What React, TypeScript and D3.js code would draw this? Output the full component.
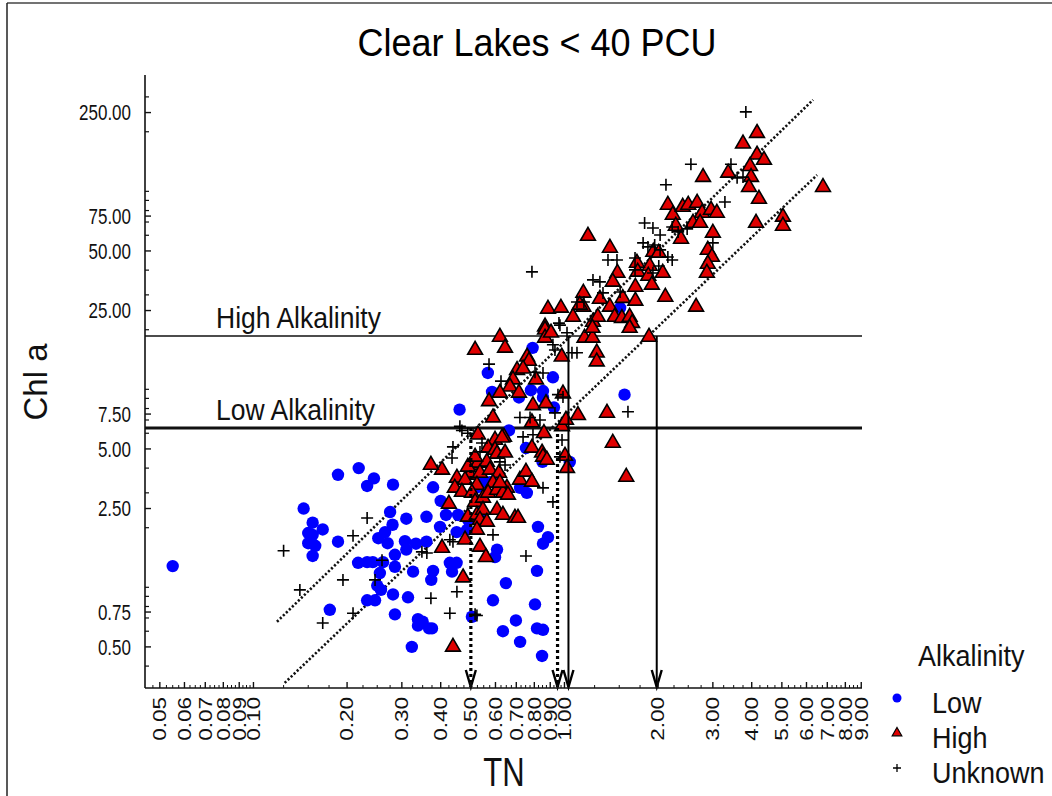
import React from 'react';
import * as d3 from 'd3';

// ---- data (TN, Chl a) ----
const lowPoints: [number, number][] = [
  [0.055, 1.28], [0.46, 7.9], [0.585, 9.7], [0.187, 3.7], [0.218, 4.0], [0.244, 3.55], [0.232, 3.25],
  [0.281, 3.3], [0.145, 2.5], [0.155, 2.12], [0.167, 1.96], [0.15, 1.88], [0.155, 1.84], [0.15, 1.67],
  [0.158, 1.62], [0.155, 1.44], [0.187, 1.7], [0.378, 3.2], [0.40, 2.73], [0.36, 2.27], [0.31, 2.22],
  [0.275, 2.4], [0.28, 2.07], [0.265, 1.9], [0.252, 1.77], [0.27, 1.67], [0.307, 1.71], [0.333, 1.66],
  [0.36, 1.7], [0.398, 2.02], [0.416, 2.32], [0.45, 1.9], [0.49, 2.19], [0.31, 1.55], [0.285, 1.46],
  [0.261, 1.34], [0.242, 1.34], [0.232, 1.34], [0.217, 1.33], [0.285, 1.27], [0.326, 1.2], [0.378, 1.21],
  [0.373, 1.09], [0.428, 1.33], [0.45, 1.33], [0.435, 1.2], [0.255, 1.18], [0.25, 1.02], [0.257, 0.97],
  [0.232, 0.86], [0.246, 0.86], [0.281, 0.92], [0.314, 0.89], [0.176, 0.77], [0.285, 0.73], [0.338, 0.69],
  [0.35, 0.67], [0.338, 0.64], [0.367, 0.62], [0.375, 0.62], [0.323, 0.5], [0.504, 0.71], [0.589, 0.86],
  [0.607, 1.55], [0.79, 16.2], [0.567, 12.1], [0.918, 11.5], [0.853, 9.8], [0.853, 9.1], [0.925, 8.1],
  [0.714, 9.1], [0.78, 9.9], [0.663, 6.2], [0.752, 5.05], [0.85, 4.3], [1.04, 4.3], [1.56, 9.4],
  [1.51, 25.8], [0.486, 1.95], [0.535, 2.37], [0.523, 3.2], [0.546, 3.37], [0.576, 3.4], [0.607, 3.48],
  [0.72, 3.18], [0.757, 3.0], [0.822, 2.02], [0.885, 1.79], [0.853, 1.66], [0.598, 1.42], [0.648, 1.05],
  [0.816, 1.21], [0.804, 0.82], [0.698, 0.68], [0.634, 0.6], [0.853, 0.61], [0.816, 0.62], [0.72, 0.53],
  [0.847, 0.45], [0.455, 2.32],
];

const highPoints: [number, number][] = [
  [4.16, 197], [3.75, 174], [4.16, 153], [4.38, 144], [3.95, 134], [3.98, 118], [3.92, 105], [3.36, 124],
  [2.79, 118], [4.22, 91.5], [6.78, 105], [4.13, 69.2], [5.04, 74.3], [5.04, 66.9], [2.15, 85.4], [2.23, 76.0],
  [2.28, 66.9], [2.40, 83.4], [2.50, 85.4], [2.67, 87.4], [2.77, 77.8], [2.96, 80.5], [3.09, 77.8], [2.59, 69.2],
  [2.73, 69.2], [3.00, 61.7], [2.37, 57.5], [1.19, 59.5], [1.40, 51.8], [2.89, 50.6], [2.98, 46.6], [2.89, 43.0],
  [2.87, 38.7], [1.93, 49.4], [2.01, 48.9], [1.88, 42.0], [2.07, 38.7], [1.71, 43.5], [1.72, 39.2], [1.48, 38.7],
  [1.43, 34.9], [1.86, 37.4], [1.91, 33.7], [1.69, 32.9], [1.54, 28.9], [1.69, 28.0], [2.11, 29.3], [2.65, 26.1],
  [1.30, 28.6], [1.15, 30.7], [1.15, 26.1], [0.885, 25.5], [0.974, 25.8], [1.065, 23.2], [1.40, 26.1], [1.45, 23.2],
  [1.53, 22.9], [1.62, 23.2], [1.65, 21.6], [1.235, 21.9], [1.28, 23.2], [0.866, 20.7], [1.62, 20.4], [0.516, 15.8],
  [0.62, 18.4], [0.644, 16.2], [0.866, 20.0], [0.866, 18.2], [0.905, 19.3], [1.27, 15.3], [1.27, 13.8], [1.16, 18.2],
  [1.23, 18.2], [0.98, 14.6], [0.758, 14.6], [0.769, 13.9], [0.704, 12.5], [0.736, 12.7], [1.87, 18.4], [0.81, 11.2],
  [0.683, 11.2], [0.668, 10.3], [0.714, 9.6], [0.62, 9.6], [0.572, 8.7], [0.989, 9.5], [1.105, 7.4], [1.37, 7.6],
  [0.792, 8.3], [0.872, 8.5], [0.589, 7.2], [0.786, 6.8], [0.982, 6.5], [0.527, 5.9], [0.639, 5.75], [0.598, 5.55],
  [0.568, 5.06], [0.598, 4.94], [0.786, 5.06], [0.847, 4.78], [0.853, 4.56], [1.004, 4.61], [1.43, 5.36], [1.58, 3.61],
  [1.23, 20.4], [1.011, 7.0], [0.859, 6.0], [0.63, 5.7], [0.607, 4.72], [0.644, 4.78], [0.504, 4.15], [0.527, 4.25],
  [0.563, 4.3], [0.497, 3.70], [0.535, 3.78], [0.576, 3.92], [0.616, 3.78], [0.451, 3.57], [0.479, 3.49], [0.523, 3.29],
  [0.589, 3.37], [0.653, 3.18], [0.719, 3.49], [0.752, 3.83], [0.786, 3.41], [0.444, 3.18], [0.468, 3.03], [0.504, 3.0],
  [0.404, 3.92], [0.372, 4.15], [0.516, 2.70], [0.547, 2.83], [0.568, 3.0], [0.607, 3.10], [0.634, 3.0], [0.658, 2.93],
  [0.425, 2.64], [0.489, 2.27], [0.523, 2.32], [0.547, 2.46], [0.535, 2.19], [0.563, 2.14], [0.607, 2.46], [0.634, 2.32],
  [0.693, 2.24], [0.709, 2.24], [0.479, 1.74], [0.523, 1.95], [0.535, 1.60], [0.404, 1.58], [0.559, 1.42], [0.472, 1.12],
  [0.438, 0.50], [0.878, 4.4], [1.019, 4.0], [0.489, 4.06], [0.516, 4.56], [0.62, 3.37], [1.12, 26.7],
];

const unknownPoints: [number, number][] = [
  [0.125, 1.53], [0.141, 0.97], [0.167, 0.66], [0.209, 0.74], [0.194, 1.09], [0.232, 2.24], [0.209, 1.82],
  [0.259, 1.37], [0.246, 1.09], [0.372, 0.88], [0.428, 0.74], [0.451, 0.95], [0.438, 1.70], [0.438, 5.12],
  [0.435, 4.5], [0.468, 6.2], [0.489, 6.0], [0.361, 1.49], [0.523, 0.72], [3.83, 252], [2.55, 137], [2.12, 108],
  [3.28, 88.4], [3.43, 137], [3.59, 117], [3.75, 118], [1.81, 69.2], [1.925, 65.3], [2.03, 60.2], [2.22, 66.1],
  [2.32, 62.4], [2.48, 64.6], [3.0, 54.9], [1.79, 54.9], [1.855, 52.4], [1.95, 53.6], [2.03, 50.6], [2.15, 46.6],
  [2.22, 45.0], [1.686, 46.1], [1.686, 40.1], [1.38, 45.0], [1.475, 45.0], [0.786, 39.2], [1.235, 35.7], [1.30, 34.9],
  [1.097, 27.6], [1.155, 27.6], [0.96, 21.6], [1.33, 30.7], [1.51, 31.0], [1.925, 38.7], [2.01, 42.0], [0.572, 13.4],
  [0.625, 11.0], [0.719, 7.2], [0.775, 7.2], [0.834, 7.0], [0.804, 12.2], [0.853, 12.1], [0.918, 16.8], [0.932, 15.8],
  [1.019, 19.3], [1.057, 15.3], [1.097, 15.3], [0.989, 9.15], [0.953, 9.4], [0.932, 7.6], [0.736, 5.75], [0.792, 5.9],
  [0.982, 5.55], [0.918, 2.70], [0.853, 3.18], [0.589, 1.84], [0.752, 1.44], [1.60, 7.7], [0.461, 6.5], [0.535, 4.83],
  [0.543, 5.36], [0.428, 1.74], [0.967, 4.56], [0.644, 4.15], [0.62, 4.3], [0.348, 1.51], [0.516, 0.73], [0.967, 21.1],
];

// ---- axes / annotations ----
const xTickValues = [0.05, 0.06, 0.07, 0.08, 0.09, 0.10, 0.20, 0.30, 0.40, 0.50, 0.60, 0.70, 0.80, 0.90, 1.00, 2.00, 3.00, 4.00, 5.00, 6.00, 7.00, 8.00, 9.00];
const yTickValues = [0.50, 0.75, 2.50, 5.00, 7.50, 25.00, 50.00, 75.00, 250.00];
const thresholdLabels = ['High Alkalinity', 'Low Alkalinity'];
const thresholdValues = [18.6, 6.38];
const thresholdWidths = [1.5, 3];
const regressionLines: [number, number][][] = [
  [[0.119, 0.67], [6.3, 290]],
  [[0.126, 0.329], [6.49, 121]],
];
const arrowTN = [0.50, 0.95, 1.03, 1.98];
const arrowFromChl = [6.38, 6.38, 18.6, 18.6];
const arrowDotted = [true, true, false, false];
const legendLabels = ['Low', 'High', 'Unknown'];

const FONT = "'Liberation Sans', Arial, Helvetica, sans-serif";

export default function App() {
  const W = 1052, H = 796;
  const x = d3.scaleLog().domain([0.0448, 9.05]).range([145, 862]);
  const y = d3.scaleLog().domain([0.31, 387]).range([688, 75]);
  const [x0, x1] = x.range();
  const [y0, y1] = y.range();

  const minorX = [
    ...d3.range(0.0475, 0.1, 0.0025),
    ...d3.range(0.125, 1.0, 0.025),
    ...d3.range(1.25, 9.0, 0.25),
  ].filter((v) => !xTickValues.some((t) => Math.abs(t - v) < 1e-6));
  const minorY = y.ticks().filter((v) => v >= 0.31 && v <= 387 && !yTickValues.some((t) => Math.abs(t - v) < 1e-6));

  const tri = d3.symbol(d3.symbolTriangle, 95)();
  const triLegend = d3.symbol(d3.symbolTriangle, 40)();
  const plus = 'M-6,0H6M0,-6V6';
  const line = d3.line<[number, number]>().x((d) => x(d[0])).y((d) => y(d[1]));

  return (
    <svg width={W} height={H} style={{ position: 'absolute', left: 0, top: 0, background: '#fff' }} fontFamily={FONT}>
      <rect x={0} y={0} width={W} height={H} fill="#fff" />
      <line x1={7} y1={3} x2={W} y2={3} stroke="#444" strokeWidth={1.5} />
      <line x1={7} y1={3} x2={7} y2={H} stroke="#222" strokeWidth={1.5} />

      <text transform="translate(537,56) scale(1,1.08)" fontSize={36} textAnchor="middle" fill="#000">Clear Lakes &lt; 40 PCU</text>

      {/* threshold lines */}
      {thresholdValues.map((v, i) => (
        <g key={'th' + i}>
          <line x1={x0} x2={x1} y1={y(v)} y2={y(v)} stroke="#111" strokeWidth={thresholdWidths[i]} />
          <text transform={`translate(216,${y(v) - 8}) scale(1,1.08)`} fontSize={26.5} fill="#111">{thresholdLabels[i]}</text>
        </g>
      ))}

      {/* regression lines */}
      {regressionLines.map((l, i) => (
        <path key={'rl' + i} d={line(l) || ''} stroke="#111" strokeWidth={2.6} strokeDasharray="2.2,2" fill="none" />
      ))}

      {/* points */}
      {lowPoints.map((d, i) => (
        <circle key={'l' + i} cx={x(d[0])} cy={y(d[1])} r={6.2} fill="#0000ff" />
      ))}
      {highPoints.map((d, i) => (
        <path key={'h' + i} d={tri || ''} transform={`translate(${x(d[0])},${y(d[1])})`} fill="#e00000" stroke="#000" strokeWidth={1.6} />
      ))}
      {unknownPoints.map((d, i) => (
        <path key={'u' + i} d={plus} transform={`translate(${x(d[0])},${y(d[1])})`} stroke="#000" strokeWidth={1.6} fill="none" />
      ))}

      {/* arrows */}
      {arrowTN.map((t, i) => {
        const ax = x(t);
        const top = y(arrowFromChl[i]);
        return (
          <g key={'a' + i}>
            <line x1={ax} x2={ax} y1={top} y2={y0 - 1} stroke="#000" strokeWidth={arrowDotted[i] ? 3.2 : 2}
              strokeDasharray={arrowDotted[i] ? '3,3' : undefined} />
            <path d={`M${ax - 5},${y0 - 18}L${ax},${y0 - 1}L${ax + 5},${y0 - 18}`} stroke="#000" strokeWidth={2.4} fill="none" />
          </g>
        );
      })}

      {/* axes */}
      <line x1={x0} x2={x0} y1={y1} y2={y0} stroke="#111" strokeWidth={1.6} />
      <line x1={x0} x2={x1} y1={y0} y2={y0} stroke="#111" strokeWidth={1.6} />
      {yTickValues.map((v) => (
        <g key={'yt' + v}>
          <line x1={x0} x2={x0 + 6} y1={y(v)} y2={y(v)} stroke="#111" strokeWidth={1.4} />
          <text transform={`translate(131,${y(v)}) scale(1,1.3)`} dy="0.35em" fontSize={17} textAnchor="end" fill="#111">{v.toFixed(2)}</text>
        </g>
      ))}
      {minorY.map((v) => (
        <line key={'ym' + v} x1={x0} x2={x0 + 4} y1={y(v)} y2={y(v)} stroke="#111" strokeWidth={1.2} />
      ))}
      {xTickValues.map((v) => (
        <g key={'xt' + v}>
          <line x1={x(v)} x2={x(v)} y1={y0} y2={y0 - 6} stroke="#111" strokeWidth={1.4} />
          <text transform={`translate(${x(v)},${y0 + 9}) scale(1,1.25) rotate(-90)`} dy="0.35em" fontSize={18} textAnchor="end" fill="#111">{v.toFixed(2)}</text>
        </g>
      ))}
      {minorX.map((v, i) => (
        <line key={'xm' + i} x1={x(v)} x2={x(v)} y1={y0} y2={y0 - 3} stroke="#111" strokeWidth={1} />
      ))}

      <text transform="translate(47,382) rotate(-90)" fontSize={33} textAnchor="middle" fill="#111">Chl a</text>
      <text transform="translate(504,786) scale(1,1.3)" fontSize={31} textAnchor="middle" fill="#111">TN</text>

      {/* legend */}
      <text transform="translate(918,666) scale(1,1.12)" fontSize={27} fill="#111">Alkalinity</text>
      {legendLabels.map((lab, i) => {
        const ly = 698 + i * 35;
        return (
          <g key={'lg' + i}>
            {i === 0 && <circle cx={897} cy={ly} r={4.5} fill="#0000ff" />}
            {i === 1 && <path d={triLegend || ''} transform={`translate(897,${ly})`} fill="#e00000" stroke="#000" strokeWidth={1.2} />}
            {i === 2 && <path d="M-4,0H4M0,-4V4" transform={`translate(897,${ly})`} stroke="#000" strokeWidth={1.3} />}
            <text transform={`translate(932,${ly + 15}) scale(1,1.12)`} fontSize={27} fill="#111">{lab}</text>
          </g>
        );
      })}
    </svg>
  );
}
